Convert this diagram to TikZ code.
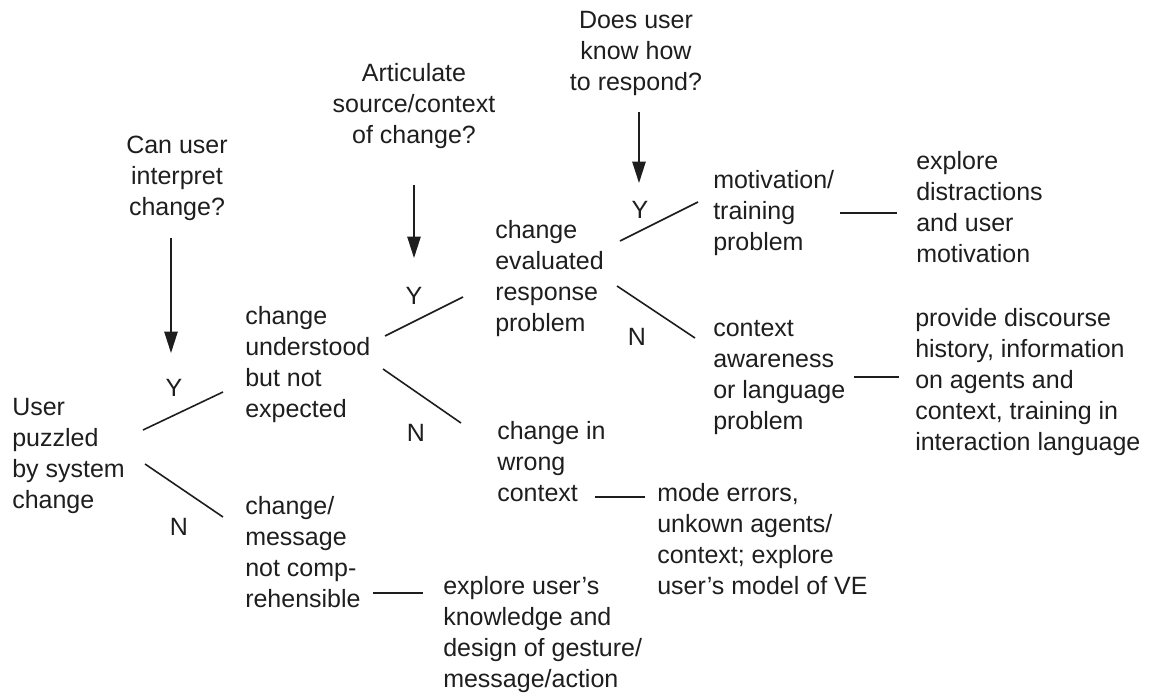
\documentclass[tikz,border=0pt]{standalone}
\usepackage{fontspec}
\setmainfont{Liberation Sans}
\usetikzlibrary{arrows.meta}
\definecolor{ink}{HTML}{1E1E1E}
\begin{document}
\begin{tikzpicture}[x=0.75pt,y=-0.75pt,
  txt/.style={anchor=base west, align=left, inner sep=0pt,
    font=\fontsize{18.75}{23.25}\selectfont, text=ink},
  qtxt/.style={txt, anchor=base, align=center},
  yn/.style={inner sep=0pt, font=\fontsize{18.75}{23.25}\selectfont, text=ink},
  branch/.style={draw=ink, line width=1.2pt},
  arr/.style={draw=ink, line width=1.1pt, -{Triangle[length=16pt,width=10pt]}}]
\useasboundingbox (0,0) rectangle (1154,698);

% questions (anchor = baseline of last line)
\node[qtxt] (q1) at (177,215.5) {Can user\\interpret\\change?};
\node[qtxt] (q2) at (414,143.5) {Articulate\\source/context\\of change?};
\node[qtxt] (q3) at (636,90.5) {Does user\\know how\\to respond?};

% blocks of text (anchor = baseline of last line)
\node[txt] (root) at (12,508.5) {User\\puzzled\\by system\\change};
\node[txt] (und) at (245,417.5) {change\\understood\\but not\\expected};
\node[txt] (eva) at (495,331.5) {change\\evaluated\\response\\problem};
\node[txt] (mot) at (713,250.5) {motivation/\\training\\problem};
\node[txt] (dis) at (916,262.5) {explore\\distractions\\and user\\motivation};
\node[txt] (ctx) at (713,429.5) {context\\awareness\\or language\\problem};
\node[txt] (pro) at (915,450.5) {provide discourse\\history, information\\on agents and\\context, training in\\interaction language};
\node[txt] (wro) at (497,501.5) {change in\\wrong\\context};
\node[txt] (mod) at (657,594.5) {mode errors,\\unkown agents/\\context; explore\\user's model of VE};
\node[txt] (msg) at (245,607.5) {change/\\message\\not comp-\\rehensible};
\node[txt] (exu) at (443,687.5) {explore user's\\knowledge and\\design of gesture/\\message/action};

% Y / N labels
\node[yn] (y1) at (174,388) {Y};
\node[yn] (n1) at (179,527) {N};
\node[yn] (y2) at (414,296) {Y};
\node[yn] (n2) at (416,433) {N};
\node[yn] (y3) at (640,210) {Y};
\node[yn] (n3) at (637,337) {N};

% arrows from questions
\coordinate (a1s) at (171,238); \coordinate (a1e) at (171,353);
\coordinate (a2s) at (414,185); \coordinate (a2e) at (414,258);
\coordinate (a3s) at (639,112); \coordinate (a3e) at (639,183);
\draw[arr] (a1s) -- (a1e);
\draw[arr] (a2s) -- (a2e);
\draw[arr] (a3s) -- (a3e);

% branch lines
\coordinate (r1a) at (143,430); \coordinate (r1b) at (223,392);
\coordinate (r2a) at (145,464); \coordinate (r2b) at (223,517);
\coordinate (u1a) at (385,336); \coordinate (u1b) at (463,297);
\coordinate (u2a) at (383,369); \coordinate (u2b) at (461,423);
\coordinate (e1a) at (620,241); \coordinate (e1b) at (698,202);
\coordinate (e2a) at (617,286); \coordinate (e2b) at (695,338);
\draw[branch] (r1a) -- (r1b);
\draw[branch] (r2a) -- (r2b);
\draw[branch] (u1a) -- (u1b);
\draw[branch] (u2a) -- (u2b);
\draw[branch] (e1a) -- (e1b);
\draw[branch] (e2a) -- (e2b);

% dashes to remedies
\coordinate (d1a) at (840,213); \coordinate (d1b) at (897,213);
\coordinate (d2a) at (854,377); \coordinate (d2b) at (899,377);
\coordinate (d3a) at (595,497); \coordinate (d3b) at (645,497);
\coordinate (d4a) at (373,593); \coordinate (d4b) at (423,593);
\draw[branch] (d1a) -- (d1b);
\draw[branch] (d2a) -- (d2b);
\draw[branch] (d3a) -- (d3b);
\draw[branch] (d4a) -- (d4b);
\end{tikzpicture}
\end{document}
